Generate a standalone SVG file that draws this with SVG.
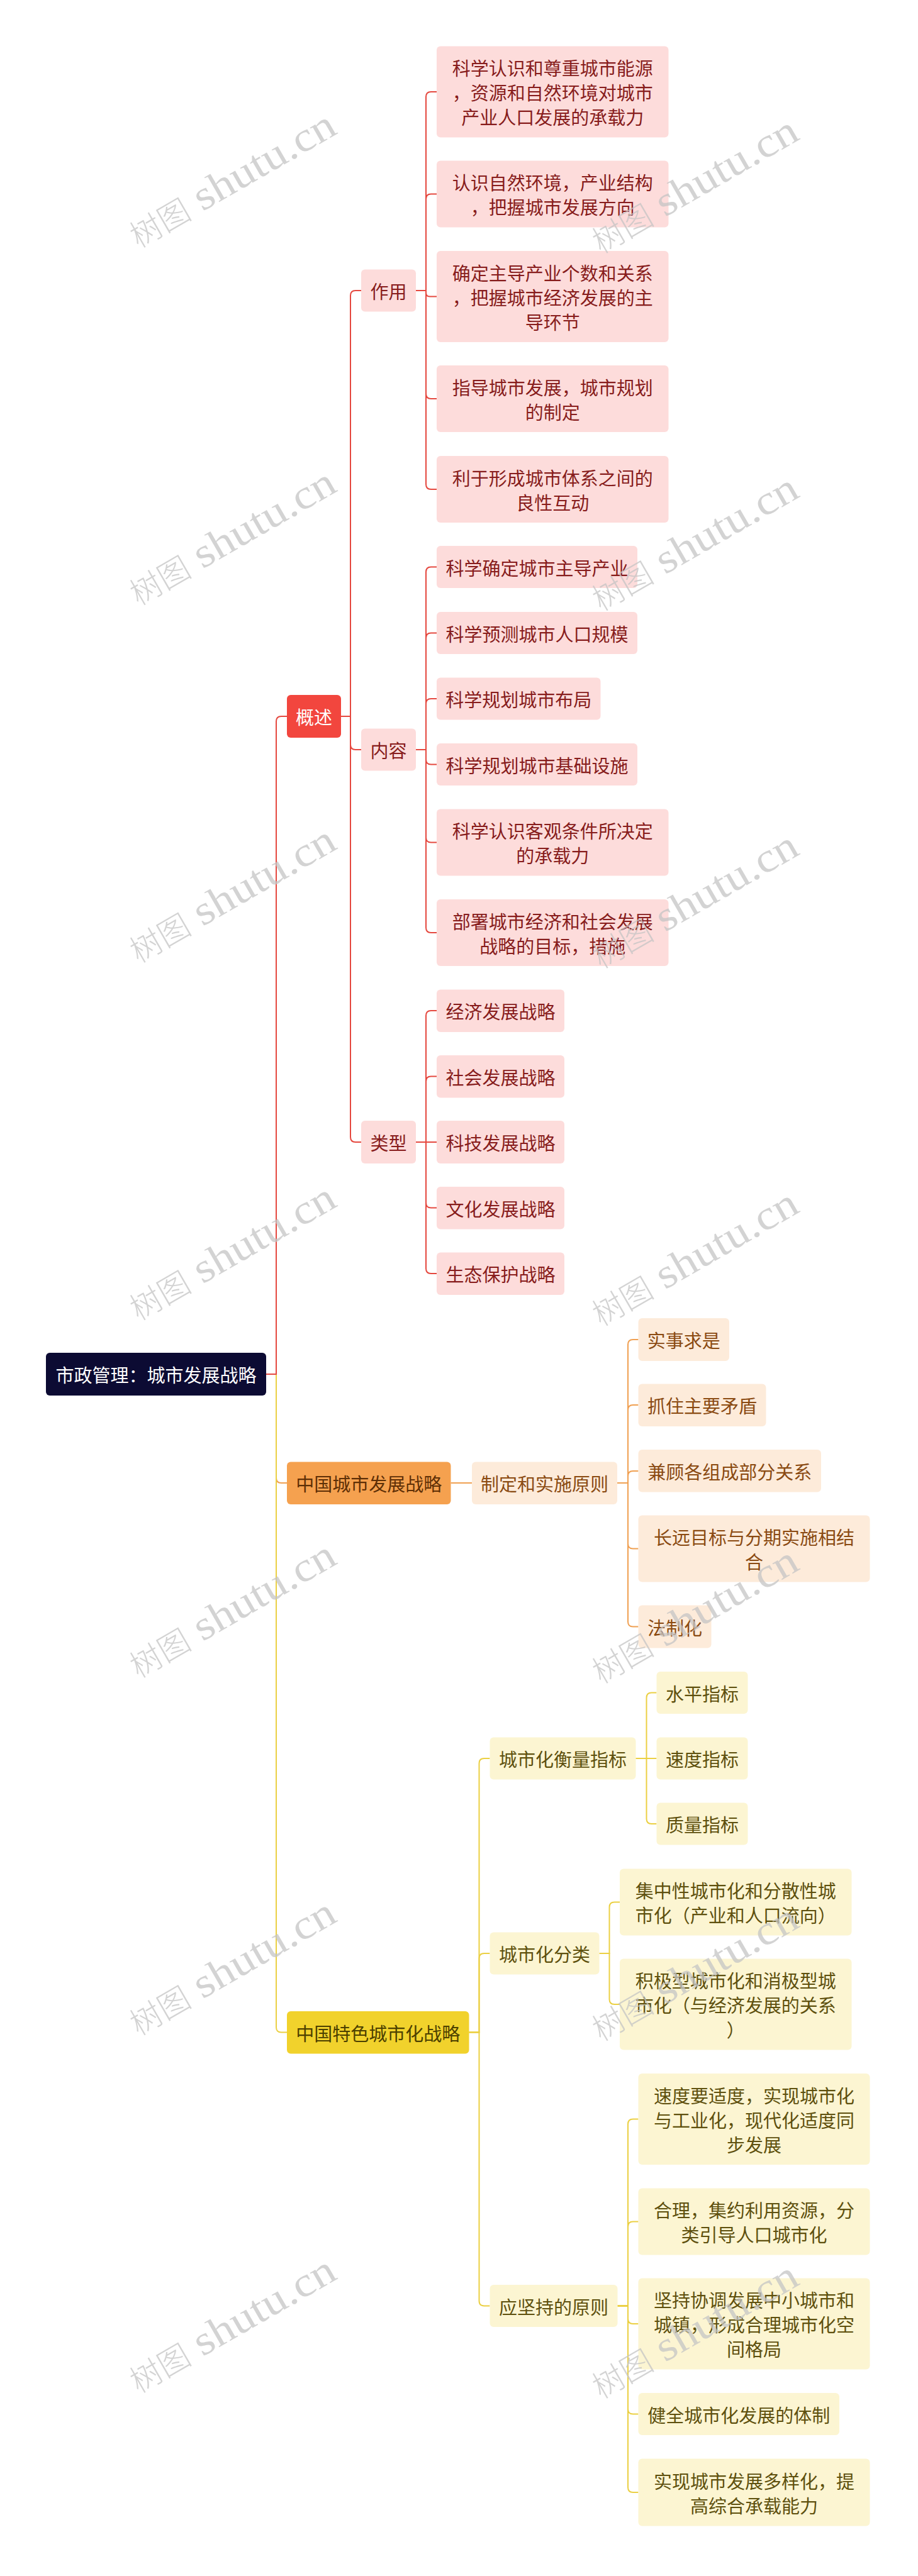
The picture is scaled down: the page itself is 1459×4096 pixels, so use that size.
<svg xmlns="http://www.w3.org/2000/svg" width="1459" height="4096" viewBox="0 0 1459 4096">
<style>
text{font-family:"Noto Sans CJK SC","Noto Sans",sans-serif;font-size:29px;text-anchor:middle;dominant-baseline:central}
.root rect{fill:#0C0B33}.root text{fill:#ffffff}
.rm rect{fill:#F2463E}.rm text{fill:#ffffff}
.rc rect{fill:#FDDCDB}.rc text{fill:#871C1C}
.om rect{fill:#F5A14F}.om text{fill:#5E2F06}
.oc rect{fill:#FDEBDA}.oc text{fill:#8A4A12}
.ym rect{fill:#F1D22C}.ym text{fill:#4C4000}
.yc rect{fill:#FCF5D2}.yc text{fill:#5E500E}
#connectors path{fill:none;stroke-width:2}
.lr{stroke:#E5483F}.lo{stroke:#F0A052}.ly{stroke:#EBD043}
.wm text{fill:#C4C4C4;fill-opacity:0.75;text-anchor:start;dominant-baseline:alphabetic}
.wm .cj{font-family:"Noto Sans CJK SC",serif;font-size:50px;font-weight:300}
.wm .lt{font-family:"Liberation Serif",serif;font-size:66px}
</style>
<defs>
<g id="wmark" class="wm"><text class="cj" x="-183.5" y="0">树图</text><text class="lt" x="-66" y="0" textLength="250" lengthAdjust="spacingAndGlyphs">shutu.cn</text></g>
</defs>
<rect x="0" y="0" width="1459" height="4096" fill="#ffffff"/>
<g id="connectors">
<path class="lo" d="M423 2185 H439 V2350 Q439 2358 447 2358 H456"/>
<path class="ly" d="M423 2185 H439 V3223.5 Q439 3231.5 447 3231.5 H456"/>
<path class="lr" d="M423 2185 H439 V1147 Q439 1139 447 1139 H456"/>
<path class="lr" d="M542 1139 H557 V470 Q557 462 565 462 H574"/>
<path class="lr" d="M542 1139 H557 V1184 Q557 1192 565 1192 H574"/>
<path class="lr" d="M542 1139 H557 V1808 Q557 1816 565 1816 H574"/>
<path class="lr" d="M661 462 H677 V154 Q677 146 685 146 H694"/>
<path class="lr" d="M661 462 H677 V316.5 Q677 308.5 685 308.5 H694"/>
<path class="lr" d="M661 462 H677 V465.5 Q677 471.5 683 471.5 H694"/>
<path class="lr" d="M661 462 H677 V626 Q677 634 685 634 H694"/>
<path class="lr" d="M661 462 H677 V770 Q677 778 685 778 H694"/>
<path class="lr" d="M661 1192 H677 V909.5 Q677 901.5 685 901.5 H694"/>
<path class="lr" d="M661 1192 H677 V1014.5 Q677 1006.5 685 1006.5 H694"/>
<path class="lr" d="M661 1192 H677 V1119 Q677 1111 685 1111 H694"/>
<path class="lr" d="M661 1192 H677 V1207.5 Q677 1215.5 685 1215.5 H694"/>
<path class="lr" d="M661 1192 H677 V1331.5 Q677 1339.5 685 1339.5 H694"/>
<path class="lr" d="M661 1192 H677 V1475 Q677 1483 685 1483 H694"/>
<path class="lr" d="M661 1816 H677 V1615 Q677 1607 685 1607 H694"/>
<path class="lr" d="M661 1816 H677 V1719.5 Q677 1711.5 685 1711.5 H694"/>
<path class="lr" d="M661 1816 H694"/>
<path class="lr" d="M661 1816 H677 V1912.5 Q677 1920.5 685 1920.5 H694"/>
<path class="lr" d="M661 1816 H677 V2017 Q677 2025 685 2025 H694"/>
<path class="lo" d="M716.5 2358 H750"/>
<path class="lo" d="M981 2358 H998 V2138 Q998 2130 1006 2130 H1014.5"/>
<path class="lo" d="M981 2358 H998 V2242 Q998 2234 1006 2234 H1014.5"/>
<path class="lo" d="M981 2358 H998 V2347 Q998 2339 1006 2339 H1014.5"/>
<path class="lo" d="M981 2358 H998 V2454.5 Q998 2462.5 1006 2462.5 H1014.5"/>
<path class="lo" d="M981 2358 H998 V2578.5 Q998 2586.5 1006 2586.5 H1014.5"/>
<path class="ly" d="M745.5 3231.5 H761.5 V2804 Q761.5 2796 769.5 2796 H778.5"/>
<path class="ly" d="M745.5 3231.5 H761.5 V3114 Q761.5 3106 769.5 3106 H778.5"/>
<path class="ly" d="M745.5 3231.5 H761.5 V3658.5 Q761.5 3666.5 769.5 3666.5 H778.5"/>
<path class="ly" d="M1010.5 2796 H1027.5 V2699.5 Q1027.5 2691.5 1035.5 2691.5 H1043.5"/>
<path class="ly" d="M1010.5 2796 H1043.5"/>
<path class="ly" d="M1010.5 2796 H1027.5 V2892 Q1027.5 2900 1035.5 2900 H1043.5"/>
<path class="ly" d="M952.5 3106 H968.5 V3032.5 Q968.5 3024.5 976.5 3024.5 H985"/>
<path class="ly" d="M952.5 3106 H968.5 V3179 Q968.5 3187 976.5 3187 H985"/>
<path class="ly" d="M981.5 3666.5 H998 V3377.5 Q998 3369.5 1006 3369.5 H1014.5"/>
<path class="ly" d="M981.5 3666.5 H998 V3540.5 Q998 3532.5 1006 3532.5 H1014.5"/>
<path class="ly" d="M981.5 3666.5 H998 V3687 Q998 3695 1006 3695 H1014.5"/>
<path class="ly" d="M981.5 3666.5 H998 V3830.5 Q998 3838.5 1006 3838.5 H1014.5"/>
<path class="ly" d="M981.5 3666.5 H998 V3955 Q998 3963 1006 3963 H1014.5"/>
</g>
<g id="root" class="root"><rect x="73" y="2151" width="350" height="68" rx="6"/><text x="248" y="2185">市政管理：城市发展战略</text></g>
<g id="gaishu" class="rm"><rect x="456" y="1105" width="86" height="68" rx="6"/><text x="499" y="1139">概述</text></g>
<g id="zuoyong" class="rc"><rect x="574" y="428.5" width="87" height="67" rx="6"/><text x="617.5" y="462">作用</text></g>
<g id="neirong" class="rc"><rect x="574" y="1158.5" width="87" height="67" rx="6"/><text x="617.5" y="1192">内容</text></g>
<g id="leixing" class="rc"><rect x="574" y="1782" width="87" height="68" rx="6"/><text x="617.5" y="1816">类型</text></g>
<g id="zy1" class="rc"><rect x="694" y="73.5" width="368.5" height="145" rx="6"/><text x="878.25" y="107">科学认识和尊重城市能源</text><text x="878.25" y="146">，资源和自然环境对城市</text><text x="878.25" y="185">产业人口发展的承载力</text></g>
<g id="zy2" class="rc"><rect x="694" y="255.5" width="368.5" height="106" rx="6"/><text x="878.25" y="289">认识自然环境，产业结构</text><text x="878.25" y="328">，把握城市发展方向</text></g>
<g id="zy3" class="rc"><rect x="694" y="399" width="368.5" height="145" rx="6"/><text x="878.25" y="432.5">确定主导产业个数和关系</text><text x="878.25" y="471.5">，把握城市经济发展的主</text><text x="878.25" y="510.5">导环节</text></g>
<g id="zy4" class="rc"><rect x="694" y="581" width="368.5" height="106" rx="6"/><text x="878.25" y="614.5">指导城市发展，城市规划</text><text x="878.25" y="653.5">的制定</text></g>
<g id="zy5" class="rc"><rect x="694" y="725" width="368.5" height="106" rx="6"/><text x="878.25" y="758.5">利于形成城市体系之间的</text><text x="878.25" y="797.5">良性互动</text></g>
<g id="nr1" class="rc"><rect x="694" y="868" width="319" height="67" rx="6"/><text x="853.5" y="901.5">科学确定城市主导产业</text></g>
<g id="nr2" class="rc"><rect x="694" y="973" width="319" height="67" rx="6"/><text x="853.5" y="1006.5">科学预测城市人口规模</text></g>
<g id="nr3" class="rc"><rect x="694" y="1077.5" width="260.5" height="67" rx="6"/><text x="824.25" y="1111">科学规划城市布局</text></g>
<g id="nr4" class="rc"><rect x="694" y="1182" width="319" height="67" rx="6"/><text x="853.5" y="1215.5">科学规划城市基础设施</text></g>
<g id="nr5" class="rc"><rect x="694" y="1286.5" width="368.5" height="106" rx="6"/><text x="878.25" y="1320">科学认识客观条件所决定</text><text x="878.25" y="1359">的承载力</text></g>
<g id="nr6" class="rc"><rect x="694" y="1430" width="368.5" height="106" rx="6"/><text x="878.25" y="1463.5">部署城市经济和社会发展</text><text x="878.25" y="1502.5">战略的目标，措施</text></g>
<g id="lx1" class="rc"><rect x="694" y="1573.5" width="203" height="67.5" rx="6"/><text x="795.5" y="1607">经济发展战略</text></g>
<g id="lx2" class="rc"><rect x="694" y="1678" width="203" height="67.5" rx="6"/><text x="795.5" y="1711.5">社会发展战略</text></g>
<g id="lx3" class="rc"><rect x="694" y="1782" width="203" height="68" rx="6"/><text x="795.5" y="1816">科技发展战略</text></g>
<g id="lx4" class="rc"><rect x="694" y="1887" width="203" height="67.5" rx="6"/><text x="795.5" y="1920.5">文化发展战略</text></g>
<g id="lx5" class="rc"><rect x="694" y="1991.5" width="203" height="67.5" rx="6"/><text x="795.5" y="2025">生态保护战略</text></g>
<g id="cndev" class="om"><rect x="456" y="2324.5" width="260.5" height="67.5" rx="6"/><text x="586.25" y="2358">中国城市发展战略</text></g>
<g id="zhiding" class="oc"><rect x="750" y="2324.5" width="231" height="67.5" rx="6"/><text x="865.5" y="2358">制定和实施原则</text></g>
<g id="o1" class="oc"><rect x="1014.5" y="2096" width="144.5" height="68" rx="6"/><text x="1086.75" y="2130">实事求是</text></g>
<g id="o2" class="oc"><rect x="1014.5" y="2200.5" width="203" height="67.5" rx="6"/><text x="1116" y="2234">抓住主要矛盾</text></g>
<g id="o3" class="oc"><rect x="1014.5" y="2305" width="290.5" height="67.5" rx="6"/><text x="1159.75" y="2339">兼顾各组成部分关系</text></g>
<g id="o4" class="oc"><rect x="1014.5" y="2409.5" width="368" height="106" rx="6"/><text x="1198.5" y="2443">长远目标与分期实施相结</text><text x="1198.5" y="2482">合</text></g>
<g id="o5" class="oc"><rect x="1014.5" y="2552.5" width="116" height="68" rx="6"/><text x="1072.5" y="2586.5">法制化</text></g>
<g id="cnurban" class="ym"><rect x="456" y="3198" width="289.5" height="67.5" rx="6"/><text x="600.75" y="3231.75">中国特色城市化战略</text></g>
<g id="hengliang" class="yc"><rect x="778.5" y="2762.5" width="232" height="67" rx="6"/><text x="894.5" y="2796">城市化衡量指标</text></g>
<g id="m1" class="yc"><rect x="1043.5" y="2658" width="145" height="67" rx="6"/><text x="1116" y="2691.5">水平指标</text></g>
<g id="m2" class="yc"><rect x="1043.5" y="2762.5" width="145" height="67" rx="6"/><text x="1116" y="2796">速度指标</text></g>
<g id="m3" class="yc"><rect x="1043.5" y="2866.5" width="145" height="67" rx="6"/><text x="1116" y="2900">质量指标</text></g>
<g id="fenlei" class="yc"><rect x="778.5" y="3072.5" width="174" height="67" rx="6"/><text x="865.5" y="3106">城市化分类</text></g>
<g id="f1" class="yc"><rect x="985" y="2971.5" width="368.5" height="106" rx="6"/><text x="1169.25" y="3005">集中性城市化和分散性城</text><text x="1169.25" y="3044">市化（产业和人口流向）</text></g>
<g id="f2" class="yc"><rect x="985" y="3114.5" width="368.5" height="145" rx="6"/><text x="1169.25" y="3148">积极型城市化和消极型城</text><text x="1169.25" y="3187">市化（与经济发展的关系</text><text x="1169.25" y="3226">）</text></g>
<g id="yuanze" class="yc"><rect x="778.5" y="3633" width="203" height="67" rx="6"/><text x="880" y="3666.5">应坚持的原则</text></g>
<g id="p1" class="yc"><rect x="1014.5" y="3297" width="368" height="145" rx="6"/><text x="1198.5" y="3330.5">速度要适度，实现城市化</text><text x="1198.5" y="3369.5">与工业化，现代化适度同</text><text x="1198.5" y="3408.5">步发展</text></g>
<g id="p2" class="yc"><rect x="1014.5" y="3479.5" width="368" height="106" rx="6"/><text x="1198.5" y="3513">合理，集约利用资源，分</text><text x="1198.5" y="3552">类引导人口城市化</text></g>
<g id="p3" class="yc"><rect x="1014.5" y="3622.5" width="368" height="145" rx="6"/><text x="1198.5" y="3656">坚持协调发展中小城市和</text><text x="1198.5" y="3695">城镇，形成合理城市化空</text><text x="1198.5" y="3734">间格局</text></g>
<g id="p4" class="yc"><rect x="1014.5" y="3805" width="319.5" height="67" rx="6"/><text x="1174.25" y="3838.5">健全城市化发展的体制</text></g>
<g id="p5" class="yc"><rect x="1014.5" y="3909.5" width="368" height="107" rx="6"/><text x="1198.5" y="3943.5">实现城市发展多样化，提</text><text x="1198.5" y="3982.5">高综合承载能力</text></g>
<g id="watermarks">
<use href="#wmark" transform="translate(379 303.5) rotate(-30)"/>
<use href="#wmark" transform="translate(379 872) rotate(-30)"/>
<use href="#wmark" transform="translate(379 1440.5) rotate(-30)"/>
<use href="#wmark" transform="translate(379 2009) rotate(-30)"/>
<use href="#wmark" transform="translate(379 2577.5) rotate(-30)"/>
<use href="#wmark" transform="translate(379 3146) rotate(-30)"/>
<use href="#wmark" transform="translate(379 3714.5) rotate(-30)"/>
<use href="#wmark" transform="translate(1114 312.5) rotate(-30)"/>
<use href="#wmark" transform="translate(1114 881) rotate(-30)"/>
<use href="#wmark" transform="translate(1114 1449.5) rotate(-30)"/>
<use href="#wmark" transform="translate(1114 2018) rotate(-30)"/>
<use href="#wmark" transform="translate(1114 2586.5) rotate(-30)"/>
<use href="#wmark" transform="translate(1114 3155) rotate(-30)"/>
<use href="#wmark" transform="translate(1114 3723.5) rotate(-30)"/>
</g>
</svg>
